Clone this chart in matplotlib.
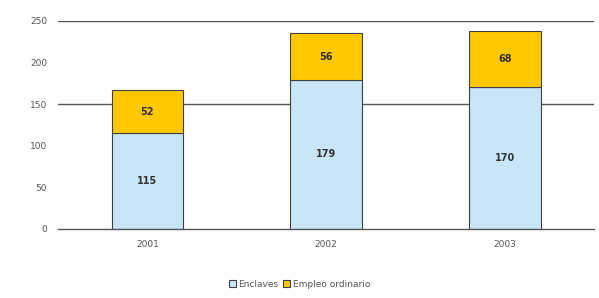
import matplotlib
matplotlib.use('Agg')
import matplotlib.pyplot as plt
import numpy as np

# Data
years = ['2001', '2002', '2003']
enclaves = [115, 179, 170]
empleo_ordinario = [52, 56, 68]

c_encl = '#C9E6F8'
c_emp = '#FFC800'
edge = '#404040'

fig = plt.figure(figsize=(5.99, 2.98), dpi=100)
ax = fig.add_axes([0.097, 0.232, 0.895, 0.698])

x = np.arange(len(years))
w = 0.4

# gridlines as visible in the reference
for yv in [150, 250]:
    ax.axhline(yv, color='#555555', lw=1.0, zorder=0)

b1 = ax.bar(x, enclaves, w, color=c_encl, edgecolor=edge, lw=0.8,
            label='Enclaves', zorder=2)
b2 = ax.bar(x, empleo_ordinario, w, bottom=enclaves, color=c_emp,
            edgecolor=edge, lw=0.8, label='Empleo ordinario', zorder=2)

for i in range(len(years)):
    ax.text(x[i], enclaves[i] / 2, str(enclaves[i]), ha='center', va='center',
            fontsize=7, fontweight='bold', color='#333333', zorder=3)
    ax.text(x[i], enclaves[i] + empleo_ordinario[i] / 2, str(empleo_ordinario[i]),
            ha='center', va='center', fontsize=7, fontweight='bold',
            color='#333333', zorder=3)

ax.set_xlim(-0.5, 2.5)
ax.set_ylim(0, 250)
ax.set_yticks(range(0, 251, 50))
ax.set_xticks(x)
ax.set_xticklabels(years)
ax.tick_params(axis='both', length=0, labelsize=6.5, colors='#555555', pad=8)
for s in ['top', 'right', 'left']:
    ax.spines[s].set_visible(False)
ax.spines['bottom'].set_color('#555555')
ax.spines['bottom'].set_linewidth(1.0)

fig.legend(handles=[b1, b2], labels=['Enclaves', 'Empleo ordinario'],
           loc='center', bbox_to_anchor=(0.5, 0.045), ncol=2, frameon=False,
           fontsize=6.5, handlelength=0.8, handleheight=0.8, handletextpad=0.3,
           columnspacing=0.5, labelcolor='#555555')

fig.savefig('out.png', dpi=100)
